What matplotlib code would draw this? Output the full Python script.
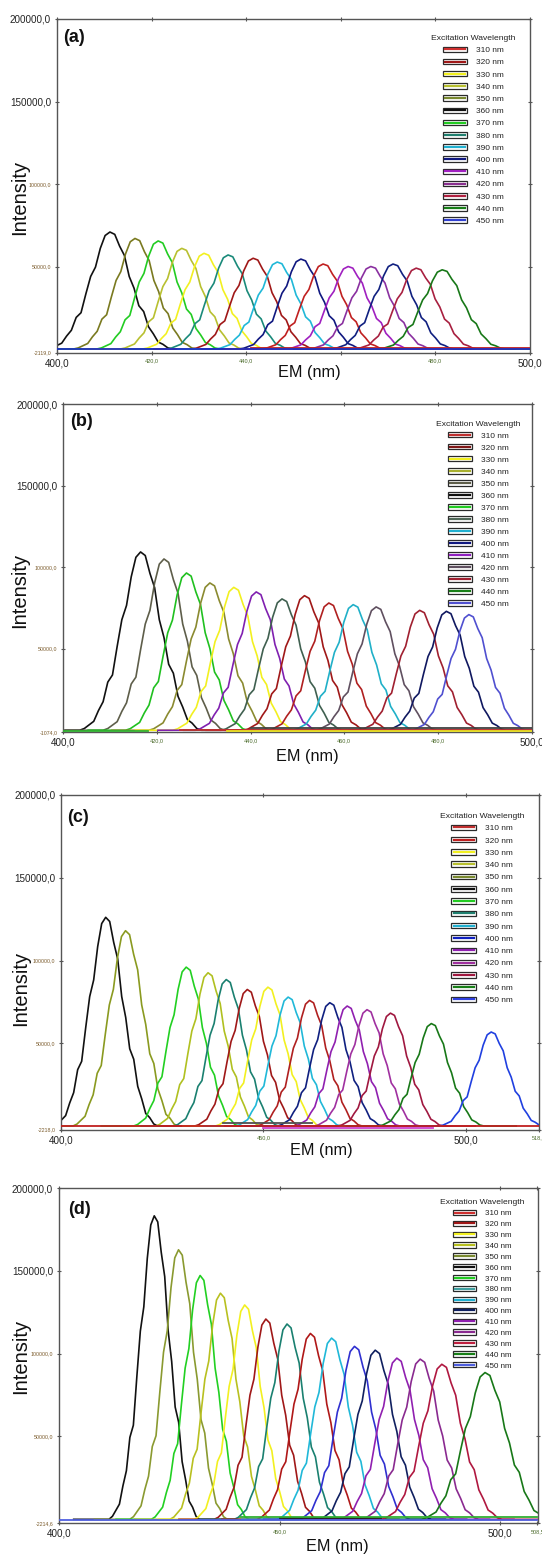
import numpy as np
import matplotlib
matplotlib.use("Agg")
import matplotlib.pyplot as plt
from matplotlib.lines import Line2D
from matplotlib.patches import Rectangle
from matplotlib.legend_handler import HandlerBase
from matplotlib.font_manager import FontProperties, fontManager

# ---------------- data ----------------
ex_labels = ["310 nm", "320 nm", "330 nm", "340 nm", "350 nm", "360 nm", "370 nm", "380 nm",
             "390 nm", "400 nm", "410 nm", "420 nm", "430 nm", "440 nm", "450 nm"]

# normalised emission band shape (offset in nm for a 10 nm FWHM band)
profile_offset = [-13, -12, -11, -10, -9, -8, -7, -6, -5, -4, -3, -2, -1, 0,
                  1, 2, 3, 4, 5, 6, 7, 8, 9, 10, 11, 12, 13]
profile_value = [0.0, 0.01, 0.03, 0.05, 0.11, 0.16, 0.27, 0.31, 0.47, 0.62, 0.70, 0.86, 0.97, 1.0,
                 0.98, 0.88, 0.80, 0.62, 0.52, 0.37, 0.32, 0.19, 0.13, 0.06, 0.04, 0.01, 0.0]

# panel (a)
peaks_a = [411.2, 416.5, 421.4, 426.4, 431.1, 436.2, 441.5, 446.6, 451.6, 456.3, 461.6, 466.4, 471.1, 476.0, 481.5]
heights_a = [70900, 67000, 65500, 61000, 58000, 57000, 55000, 52700, 54500, 51500, 50000, 50000, 51500, 49000, 48000]
widths_a = [10.2, 10.0, 10.0, 10.0, 10.0, 10.0, 10.0, 10.0, 10.0, 10.0, 10.0, 10.0, 10.0, 10.0, 10.3]
colors_a = ["#111111", "#7a7a20", "#22cc22", "#b8c030", "#f2f020", "#1a8a7a", "#a01818", "#20b8d8",
            "#101880", "#c02020", "#a020c0", "#8a30a0", "#102080", "#a82040", "#187818"]
legend_colors_a = ["#d03030", "#a01818", "#f2f020", "#b8c030", "#7a8a30", "#111111", "#22cc22", "#208070",
                   "#20b0d0", "#101880", "#a020c0", "#8a3090", "#b02040", "#188018", "#3040d0"]
base_colors_a = ["#c02020", "#2030c0"]
base_levels_a = [900, 0]
base_start_a = [441, 400]
base_end_a = [500, 500]
ymin_a = -2119.0

# panel (b)
peaks_b = [416.5, 421.5, 426.3, 431.3, 436.4, 441.2, 446.7, 451.5, 456.7, 461.9, 466.8, 476.1, 481.8, 486.6]
heights_b = [109300, 105000, 96400, 90300, 87600, 84800, 80500, 82500, 78000, 77000, 75600, 73500, 72900, 70900]
widths_b = [10.0, 10.0, 10.0, 10.0, 10.0, 10.0, 10.0, 10.0, 10.0, 10.0, 10.0, 10.0, 9.8, 9.5]
colors_b = ["#111111", "#5e5e4a", "#20c020", "#8a8a30", "#f2f020", "#8020b0", "#406050", "#a01818",
            "#b02020", "#20b0c8", "#605060", "#a02030", "#101860", "#5050d0"]
legend_colors_b = ["#c03030", "#801818", "#f2f020", "#a8b030", "#5e5e4a", "#111111", "#22cc22", "#506858",
                   "#20b0d0", "#101880", "#9020c0", "#605060", "#a02030", "#188018", "#5050d0"]
base_colors_b = ["#30b030", "#c03030", "#e8e020", "#404040"]
base_levels_b = [-300, 0, -400, 1200]
base_start_b = [400, 425, 435, 440]
base_end_b = [418, 500, 500, 500]
ymin_b = -1074.0

# panel (c)
peaks_c = [411.0, 415.9, 430.9, 436.3, 440.8, 446.0, 451.1, 456.1, 461.4, 466.4, 470.7, 475.6, 481.4, 491.5, 506.3]
heights_c = [126100, 118000, 96000, 92600, 88500, 82500, 83900, 77900, 75900, 74500, 72500, 70300, 68200, 61900, 56800]
widths_c = [9.9, 10.0, 10.0, 10.0, 10.0, 10.0, 10.0, 10.0, 10.0, 10.0, 10.0, 10.0, 10.0, 10.0, 9.9]
colors_c = ["#111111", "#8a9a20", "#22d022", "#b0c020", "#1a8070", "#a01818", "#f2f020", "#20b8d8",
            "#b02020", "#102080", "#9020b0", "#a030a0", "#a01840", "#187818", "#2040e0"]
legend_colors_c = ["#c03030", "#c02020", "#f2f020", "#b8c030", "#7a8a30", "#111111", "#22cc22", "#208070",
                   "#20b0d0", "#1020c0", "#9020b0", "#a030a0", "#a01840", "#188018", "#3040e0"]
base_colors_c = ["#505050", "#d040d0", "#c02020"]
base_levels_c = [1600, -900, 200]
base_start_c = [440, 450, 400]
base_end_c = [462, 492, 518]
ymin_c = -2218.0

# panel (d)
peaks_d = [421.6, 427.1, 432.0, 436.6, 442.1, 446.9, 451.7, 457.0, 461.8, 467.0, 471.7, 476.6, 481.9, 486.8, 496.6]
heights_d = [183200, 162700, 147200, 136500, 129400, 120900, 117900, 112200, 109400, 104400, 102100, 97300, 96700, 93600, 88600]
widths_d = [7.9, 8.5, 8.5, 8.8, 8.8, 9.0, 9.2, 9.3, 9.5, 9.7, 9.8, 10.0, 10.2, 10.5, 11.1]
colors_d = ["#111111", "#8a9a30", "#22d022", "#b8c020", "#f2f020", "#a01818", "#1a8070", "#b01818",
            "#20b8d8", "#3030d0", "#102060", "#9020b0", "#8a2a90", "#b01840", "#187818"]
legend_colors_d = ["#d03030", "#a01818", "#f2f020", "#b8c020", "#7a8a30", "#111111", "#22cc22", "#40a0a0",
                   "#20b0d0", "#102060", "#9020b0", "#8a2a90", "#c02040", "#188018", "#5060e0"]
base_colors_d = ["#202020", "#30b030", "#5060e0"]
base_levels_d = [800, 1300, -700]
base_start_d = [450, 441, 400]
base_end_d = [473, 508.5, 508.5]
ymin_d = -2214.6

xmax_list = [500.0, 500.0, 518.0, 508.5]
xticks_list = [[400, 420, 440, 460, 480, 500], [400, 420, 440, 460, 480, 500],
               [400, 450, 500, 518], [400, 450, 500, 508.5]]
xticklabels_list = [["400,0", "420,0", "440,0", "", "480,0", "500,0"],
                    ["400,0", "420,0", "440,0", "460,0", "480,0", "500,0"],
                    ["400,0", "450,0", "500,0", "518,0"],
                    ["400,0", "450,0", "500,0", "508,5"]]
yticks_main = [50000, 100000, 150000, 200000]
yticklabels_main = ["50000,0", "100000,0", "150000,0", "200000,0"]
panel_tags = ["(a)", "(b)", "(c)", "(d)"]

# ---------------- fonts ----------------
avail = {f.name for f in fontManager.ttflist}
if "Liberation Sans Narrow" in avail:
    NARROW, NSCALE = "Liberation Sans Narrow", 1.0
else:
    NARROW, NSCALE = "Liberation Sans", 0.85
REG = "Liberation Sans"

# ---------------- layout ----------------
W, H = 542, 1556
fig = plt.figure(figsize=(W / 100, H / 100), dpi=100)

boxes = [(57, 19, 529.6, 352.5), (63.3, 404, 531.6, 732), (61.2, 795, 538.5, 1129.7), (59, 1188, 537.5, 1523)]
legend_anchor = [(431, 35), (436, 420.5), (439.7, 813), (440, 1199.5)]
legend_size = [7.0, 7.0, 7.0, 6.8]
legend_spacing = [0.55, 0.53, 0.56, 0.42]
legend_hlen = [3.0, 3.0, 3.0, 2.9]
tag_pos = [(0.013, 0.944), (0.015, 0.948), (0.013, 0.934), (0.019, 0.937)]
intens_pos = [(20, 197), (19.5, 590), (21, 988), (20.5, 1356)]
em_pos = [(309.5, 373), (307, 757), (321, 1150), (337.5, 1546)]


class BoxLineHandler(HandlerBase):
    def create_artists(self, legend, orig_handle, xdescent, ydescent, width, height, fontsize, trans):
        rect = Rectangle((-xdescent, -ydescent), width, height, facecolor="white",
                         edgecolor="#2a2a2a", lw=0.9, transform=trans)
        y = -ydescent + height / 2
        ln = Line2D([-xdescent + width * 0.1, -xdescent + width * 0.9], [y, y],
                    color=orig_handle.get_color(), lw=1.6, transform=trans)
        return [rect, ln]


panels = [
    (peaks_a, heights_a, widths_a, colors_a, legend_colors_a, base_colors_a, base_levels_a, base_start_a, base_end_a, ymin_a),
    (peaks_b, heights_b, widths_b, colors_b, legend_colors_b, base_colors_b, base_levels_b, base_start_b, base_end_b, ymin_b),
    (peaks_c, heights_c, widths_c, colors_c, legend_colors_c, base_colors_c, base_levels_c, base_start_c, base_end_c, ymin_c),
    (peaks_d, heights_d, widths_d, colors_d, legend_colors_d, base_colors_d, base_levels_d, base_start_d, base_end_d, ymin_d),
]

poff = np.array(profile_offset, dtype=float)
pval = np.array(profile_value, dtype=float)

for i, (pk, ht, wd, cols, lcols, bcols, blev, bst, ben, ymin) in enumerate(panels):
    l, t, r, b = boxes[i]
    ax = fig.add_axes([l / W, 1 - b / H, (r - l) / W, (b - t) / H])
    xmax = xmax_list[i]

    for c, h, w, col in zip(pk, ht, wd, cols):
        xs = c + poff * w / 10.0
        ys = h * pval
        xs = np.concatenate([[xs[0] - 8], xs, [xs[-1] + 8]])
        ys = np.concatenate([[0.0], ys, [0.0]])
        ax.plot(xs, ys, color=col, lw=1.2, zorder=2)
    for col, lev, s, e in zip(bcols, blev, bst, ben):
        ax.plot([s, e], [lev, lev], color=col, lw=1.3, zorder=3)

    ax.set_xlim(400, xmax)
    ax.set_ylim(ymin, 200000)

    for sp in ax.spines.values():
        sp.set_color("#555555")
        sp.set_linewidth(1.0)
    ax.tick_params(direction="inout", length=3.5, width=0.8, color="#555555",
                   top=True, right=True, pad=2.5)

    # x ticks
    xt = xticks_list[i]
    ax.set_xticks(xt)
    ax.set_xticklabels(xticklabels_list[i])
    for lbl, v in zip(ax.get_xticklabels(), xt):
        lbl.set_fontfamily(NARROW)
        if v in (400, 500):
            lbl.set_fontsize(8.4 * NSCALE)
            lbl.set_color("#222222")
        else:
            lbl.set_fontsize(4)
            lbl.set_color("#4a6a2a")

    # y ticks
    yt = [ymin] + yticks_main
    ylabs = [("%.1f" % ymin).replace(".", ",")] + yticklabels_main
    ax.set_yticks(yt)
    ax.set_yticklabels(ylabs)
    for lbl, v in zip(ax.get_yticklabels(), yt):
        lbl.set_fontfamily(NARROW)
        if v >= 150000:
            lbl.set_fontsize(8.4 * NSCALE)
            lbl.set_color("#222222")
        else:
            lbl.set_fontsize(3.8)
            lbl.set_color("#7a5a2a")

    # panel tag
    ax.text(tag_pos[i][0], tag_pos[i][1], panel_tags[i], transform=ax.transAxes,
            ha="left", va="center", fontsize=13, fontweight="bold", family=REG, color="#111111")

    # axis titles
    fig.text(intens_pos[i][0] / W, 1 - intens_pos[i][1] / H, "Intensity", rotation=90,
             ha="center", va="center", fontsize=14.5, family=REG, color="#111111")
    fig.text(em_pos[i][0] / W, 1 - em_pos[i][1] / H, "EM (nm)",
             ha="center", va="center", fontsize=13.8 * NSCALE, family=NARROW, color="#111111")

    # legend
    handles = [Line2D([], [], color=c) for c in lcols]
    fsz = legend_size[i] * NSCALE
    leg = ax.legend(handles, ex_labels, title="Excitation Wavelength", loc="upper left",
                    bbox_to_anchor=(legend_anchor[i][0] / W, 1 - legend_anchor[i][1] / H),
                    bbox_transform=fig.transFigure, frameon=False, borderpad=0, borderaxespad=0,
                    handlelength=legend_hlen[i], handleheight=0.65, handletextpad=1.05,
                    labelspacing=legend_spacing[i],
                    prop=FontProperties(family=NARROW, size=fsz),
                    title_fontproperties=FontProperties(family=NARROW, size=7.2 * NSCALE),
                    handler_map={Line2D: BoxLineHandler()})
    for txt in leg.get_texts():
        txt.set_color("#222222")
    leg.get_title().set_color("#222222")

fig.savefig("out.png", dpi=100)
